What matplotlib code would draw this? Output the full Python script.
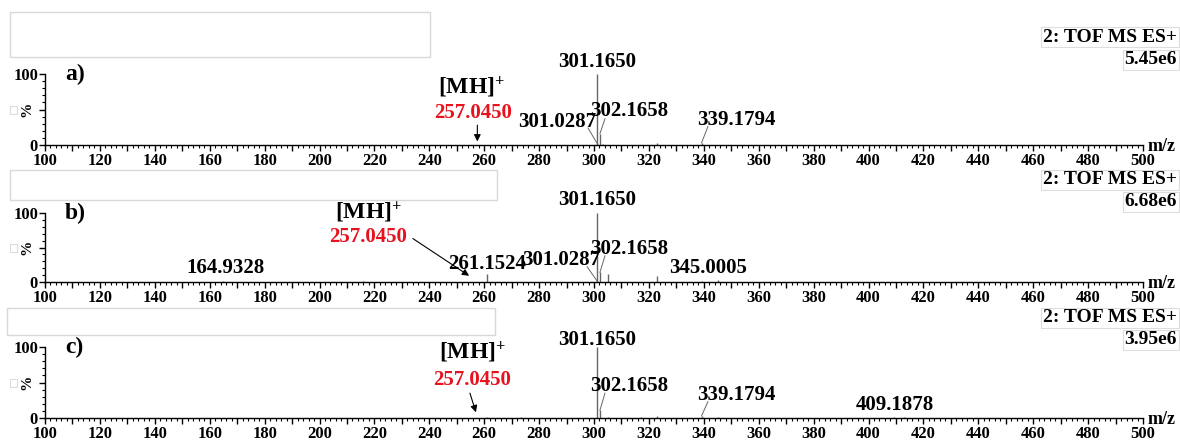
import matplotlib
matplotlib.use("Agg")
import matplotlib.pyplot as plt
from matplotlib.patches import Rectangle
from matplotlib.ticker import MultipleLocator, FuncFormatter

plt.rcParams["font.family"] = ["Liberation Serif", "DejaVu Serif"]
plt.rcParams["font.weight"] = "bold"
plt.rcParams["mathtext.fontset"] = "custom"
plt.rcParams["mathtext.rm"] = "Liberation Serif"
plt.rcParams["mathtext.it"] = "Liberation Serif"
plt.rcParams["mathtext.bf"] = "Liberation Serif:bold"

# peak lists (m/z, relative intensity %)
mz_a = [301.0287, 301.1650, 302.1658, 303.17, 323.1, 339.1794]
int_a = [3, 100, 16, 2, 3, 3]
mz_b = [164.9328, 216.0, 261.1524, 301.0287, 301.1650, 302.1658, 305.2, 323.1, 339.2, 345.0005]
int_b = [1, 1, 11, 2, 100, 14, 11, 8, 2, 3]
mz_c = [261.2, 273.5, 301.1650, 302.1658, 305.0, 317.0, 323.1, 339.1794, 345.0, 409.1878, 413.0]
int_c = [1, 1, 100, 11, 2, 1.5, 3, 3, 1.5, 2, 1]

panel_names = ["a)", "b)", "c)"]
base_peaks = ["5.45e6", "6.68e6", "3.95e6"]
mh_mz = 257.0450

# labelled peaks per panel: (text, peak m/z, peak %)
labels_a = [("301.1650", 301.1650, 100), ("301.0287", 301.0287, 3),
            ("302.1658", 302.1658, 16), ("339.1794", 339.1794, 3)]
labels_b = [("301.1650", 301.1650, 100), ("164.9328", 164.9328, 1), ("261.1524", 261.1524, 11),
            ("301.0287", 301.0287, 2), ("302.1658", 302.1658, 14), ("345.0005", 345.0005, 3)]
labels_c = [("301.1650", 301.1650, 100), ("302.1658", 302.1658, 11),
            ("339.1794", 339.1794, 3), ("409.1878", 409.1878, 2)]

# layout: label text position, and leader start (None = no leader)
layout_a = [((301.0, 117), None), ((286.5, 32), (297.8, 24)),
            ((313.0, 48), (304.0, 37)), ((351.7, 35), (341.5, 26))]
layout_b = [((301.0, 119), None), ((165.6, 20), None), ((261.0, 26), None),
            ((288.0, 32), (297.5, 22)), ((313.0, 48), (304.0, 38)), ((341.5, 20), None)]
layout_c = [((301.0, 110), None), ((313.0, 45), (304.0, 35)),
            ((351.7, 32), (341.5, 23)), ((409.6, 18), None)]
# [MH]+ text, red mass, arrow start, arrow end
mh_layout = [((255.5, 82), (255.8, 45), (257.5, 28), (257.5, 5)),
             ((217.7, 101), (217.7, 65), (234.0, 63), (254.5, 9)),
             ((255.6, 93), (255.6, 53), (254.8, 35), (257.0, 8))]

W, H = 1180, 441
fig = plt.figure(figsize=(W / 100, H / 100), dpi=100)

# axes boxes in pixels: (y of 100%, y of 0%)
rows = [(74, 145), (213, 282), (347, 418)]
x0, x1 = 45, 1143
gray_boxes = [(10, 12, 430, 57), (10, 170, 497, 200), (7, 308, 495, 335)]
tof_y = [(37, 60), (180, 202), (318, 340)]

all_mz = [mz_a, mz_b, mz_c]
all_int = [int_a, int_b, int_c]
all_labels = [labels_a, labels_b, labels_c]
all_layout = [layout_a, layout_b, layout_c]

for i in range(3):
    top, bot = rows[i]
    ax = fig.add_axes([x0 / W, 1 - bot / H, (x1 - x0) / W, (bot - top) / H])
    ax.set_xlim(100, 500)
    ax.set_ylim(0, 100)
    for s in ["top", "right"]:
        ax.spines[s].set_visible(False)
    ax.spines["left"].set_linewidth(1)
    ax.spines["bottom"].set_linewidth(1)

    ax.vlines(all_mz[i], 0, all_int[i], color="#666666", linewidth=1)

    ax.xaxis.set_major_locator(MultipleLocator(10))
    ax.xaxis.set_minor_locator(MultipleLocator(2))
    ax.xaxis.set_major_formatter(FuncFormatter(lambda v, p: f"{v:.0f}" if round(v) % 20 == 0 else ""))
    ax.yaxis.set_major_locator(MultipleLocator(50))
    ax.yaxis.set_minor_locator(MultipleLocator(10))
    ax.yaxis.set_major_formatter(FuncFormatter(lambda v, p: "" if round(v) == 50 else f"{v:.0f}"))
    ax.tick_params(axis="x", which="major", length=4, width=1, labelsize=12, pad=2)
    ax.tick_params(axis="y", which="major", length=4, width=1, labelsize=12, pad=1)
    ax.tick_params(axis="both", which="minor", length=2, width=0.8)
    for lab in ax.get_xticklabels() + ax.get_yticklabels():
        lab.set_fontweight("bold")
    for lab in ax.get_yticklabels():
        lab.set_verticalalignment("center_baseline")

    ax.set_ylabel("%", fontsize=11, fontweight="bold")
    ax.yaxis.set_label_coords(-0.011, 0.5)
    ax.text(0.018, 1.0, panel_names[i], transform=ax.transAxes, fontsize=17,
            fontweight="bold", va="center", ha="left")
    ax.text(1.004, -0.02, "m/z", transform=ax.transAxes, fontsize=13,
            fontweight="bold", va="center", ha="left")

    for (txt, pmz, pint), (tpos, lead) in zip(all_labels[i], all_layout[i]):
        ax.text(tpos[0], tpos[1], txt, fontsize=15, fontweight="bold",
                ha="center", va="center", clip_on=False)
        if lead is not None:
            ax.plot([lead[0], pmz], [lead[1], pint], color="#666666", linewidth=0.7,
                    clip_on=False)

    mh_pos, red_pos, a0, a1 = mh_layout[i]
    ax.text(mh_pos[0], mh_pos[1], "[MH]$^{+}$", fontsize=17, fontweight="bold",
            ha="center", va="center", clip_on=False)
    ax.text(red_pos[0], red_pos[1], f"{mh_mz:.4f}", fontsize=15, fontweight="bold",
            color="#e8121f", ha="center", va="center", clip_on=False)
    ax.annotate("", xy=a1, xytext=a0,
                arrowprops=dict(arrowstyle="-|>", color="black", lw=0.8,
                                mutation_scale=10, shrinkA=0, shrinkB=0))

    # scanner header boxes
    bx0, by0, bx1, by1 = gray_boxes[i]
    fig.patches.append(Rectangle((bx0 / W, 1 - by1 / H), (bx1 - bx0) / W, (by1 - by0) / H,
                                 transform=fig.transFigure, fill=False,
                                 edgecolor="#d8d8d8", linewidth=1))
    sq = (bot + top) / 2
    fig.patches.append(Rectangle((10 / W, 1 - (sq + 4) / H), 7 / W, 8 / H,
                                 transform=fig.transFigure, fill=False,
                                 edgecolor="#dcdcdc", linewidth=0.8))

    ty1, ty2 = tof_y[i]
    fig.text(1177 / W, 1 - ty1 / H, "2: TOF MS ES+", fontsize=14, fontweight="bold",
             ha="right", va="center",
             bbox=dict(boxstyle="square,pad=0.08", fc="white", ec="#dddddd", lw=0.8))
    fig.text(1177 / W, 1 - ty2 / H, base_peaks[i], fontsize=14, fontweight="bold",
             ha="right", va="center",
             bbox=dict(boxstyle="square,pad=0.08", fc="white", ec="#dddddd", lw=0.8))

fig.savefig("out.png", dpi=100)
